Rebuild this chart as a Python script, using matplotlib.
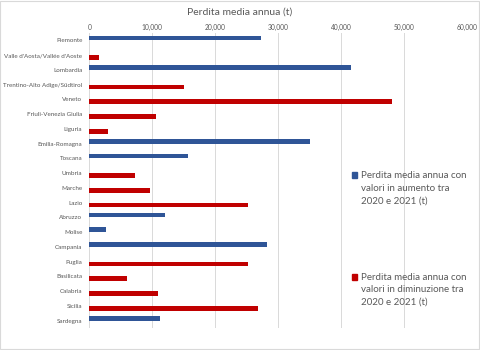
import matplotlib
matplotlib.use('Agg')
import matplotlib.pyplot as plt
from matplotlib.patches import Rectangle
from matplotlib.ticker import FuncFormatter
import numpy as np

plt.rcParams['font.family'] = ['Lato', 'DejaVu Sans']

regioni = ['Piemonte', "Valle d'Aosta/Vallée d'Aoste", 'Lombardia',
           'Trentino-Alto Adige/Südtirol', 'Veneto', 'Friuli-Venezia Giulia',
           'Liguria', 'Emilia-Romagna', 'Toscana', 'Umbria', 'Marche', 'Lazio',
           'Abruzzo', 'Molise', 'Campania', 'Puglia', 'Basilicata', 'Calabria',
           'Sicilia', 'Sardegna']
# perdita media annua (t): regioni con valori in aumento / in diminuzione
in_aumento = [27200, 0, 41600, 0, 0, 0, 0, 35100, 15700, 0, 0, 0,
              12100, 2700, 28300, 0, 0, 0, 0, 11200]
in_diminuzione = [0, 1500, 0, 15050, 48100, 10550, 2950, 0, 0, 7200, 9650, 25200,
                  0, 0, 0, 25200, 6000, 10900, 26750, 0]
label_aumento = 'Perdita media annua con\nvalori in aumento tra\n2020 e 2021 (t)'
label_diminuzione = 'Perdita media annua con\nvalori in diminuzione tra\n2020 e 2021 (t)'

blu = '#2f5597'
rosso = '#c00000'
grigio = '#595959'

fig = plt.figure(figsize=(4.8, 3.5), dpi=100)
ax = fig.add_axes([0.186, 0.063, 0.787, 0.843])

y = np.arange(len(regioni))
h = 0.32
ax.barh(y - h / 2, in_aumento, height=h, color=blu, zorder=3)
ax.barh(y + h / 2, in_diminuzione, height=h, color=rosso, zorder=3)

ax.set_ylim(len(regioni) - 0.5, -0.5)
ax.set_xlim(0, 60000)
ax.set_xticks(range(0, 60001, 10000))
ax.xaxis.set_major_formatter(FuncFormatter(lambda v, p: f'{int(v):,}'))
ax.xaxis.tick_top()
ax.set_yticks(y)
ax.set_yticklabels(regioni)
ax.tick_params(axis='y', length=0, labelsize=4.5, labelcolor=grigio, pad=5)
ax.tick_params(axis='x', length=0, labelsize=4.8, labelcolor=grigio, pad=1.5)
ax.grid(axis='x', color='#d9d9d9', linewidth=0.7, zorder=0)
for s in ax.spines.values():
    s.set_visible(False)

fig.text(0.5, 0.965, 'Perdita media annua (t)', ha='center', va='center',
         fontsize=7.5, color=grigio)

# legenda a destra, sopra la griglia
for yy, col, lab in [(0.50, blu, label_aumento), (0.21, rosso, label_diminuzione)]:
    fig.add_artist(Rectangle((0.733, yy - 0.009), 0.011, 0.017, color=col,
                             transform=fig.transFigure))
    fig.text(0.752, yy + 0.011, lab, ha='left', va='top', fontsize=7.0,
             color=grigio, linespacing=1.5)

fig.add_artist(Rectangle((0.001, 0.002), 0.997, 0.996, fill=False,
                         edgecolor='#d9d9d9', linewidth=0.8,
                         transform=fig.transFigure))

fig.savefig('out.png', dpi=100)
